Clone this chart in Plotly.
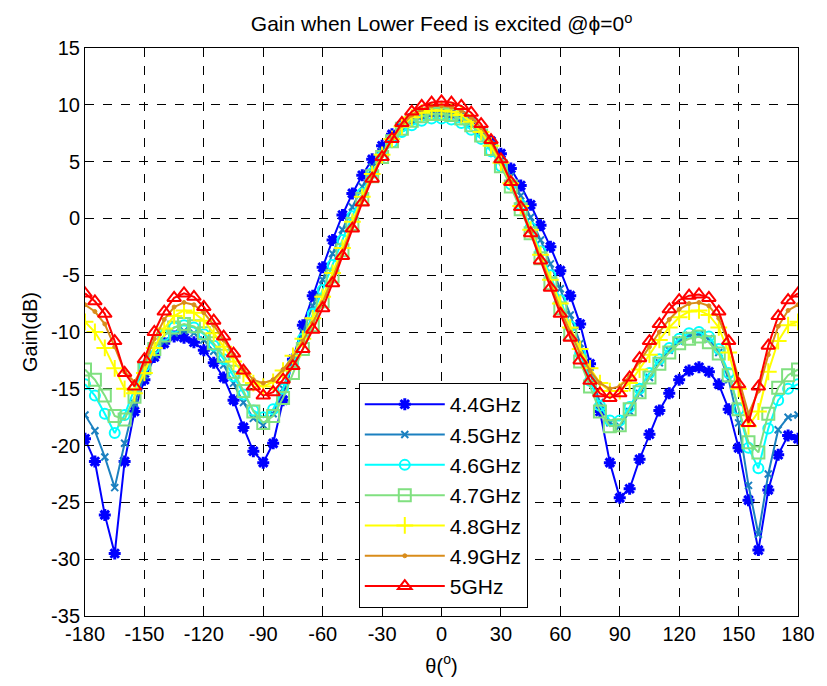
import plotly.graph_objects as go

theta = list(range(-180, 181, 5))

g44 = [-19.4, -21.4, -26.1, -29.5, -21.4, -17.0, -14.2, -12.2, -11.0, -10.4, -10.5, -10.9, -11.6, -12.7, -14.0, -16.0, -18.4, -20.5, -21.5, -19.8, -16.0, -12.4, -9.4, -6.8, -4.3, -1.9, 0.3, 2.2, 3.8, 5.2, 6.4, 7.4, 8.2, 8.8, 9.2, 9.4, 9.4, 9.3, 9.0, 8.5, 7.7, 6.8, 5.7, 4.4, 2.9, 1.2, -0.6, -2.5, -4.6, -6.8, -9.3, -12.8, -17.0, -21.5, -24.6, -23.8, -21.2, -19.0, -16.9, -15.4, -14.2, -13.4, -13.1, -13.5, -14.6, -16.8, -20.2, -24.8, -29.2, -23.9, -20.8, -19.1, -19.4]
g45 = [-17.3, -18.7, -21.0, -23.7, -19.8, -16.3, -13.8, -12.0, -10.8, -10.1, -9.9, -10.1, -10.7, -11.7, -12.9, -14.5, -16.2, -17.6, -18.2, -17.2, -15.0, -12.4, -10.0, -7.7, -5.4, -3.1, -1.0, 1.0, 2.8, 4.5, 5.9, 7.1, 8.0, 8.6, 9.0, 9.2, 9.2, 9.1, 8.8, 8.3, 7.5, 6.5, 5.2, 3.7, 2.0, 0.1, -1.9, -4.0, -6.2, -8.5, -11.0, -13.6, -16.2, -18.0, -18.3, -17.0, -15.4, -14.0, -12.7, -11.6, -10.8, -10.3, -10.2, -10.6, -11.8, -14.2, -18.0, -23.5, -27.8, -22.5, -18.6, -17.5, -17.3]
g46 = [-14.6, -15.6, -17.2, -18.9, -17.3, -15.0, -13.0, -11.4, -10.3, -9.6, -9.4, -9.6, -10.2, -11.2, -12.4, -13.9, -15.5, -16.9, -17.5, -16.8, -15.0, -12.8, -10.6, -8.4, -6.3, -4.1, -1.9, 0.2, 2.2, 4.0, 5.5, 6.7, 7.6, 8.2, 8.6, 8.8, 8.8, 8.7, 8.4, 7.8, 7.0, 5.9, 4.6, 3.0, 1.2, -0.8, -2.9, -5.0, -7.2, -9.5, -11.9, -14.3, -16.5, -17.8, -17.8, -16.6, -15.0, -13.6, -12.4, -11.4, -10.6, -10.1, -10.0, -10.4, -11.5, -13.6, -16.8, -20.2, -22.0, -18.5, -16.0, -15.0, -14.6]
g47 = [-13.3, -14.2, -15.6, -17.4, -17.7, -15.7, -13.2, -11.5, -10.3, -9.6, -9.3, -9.5, -10.1, -11.0, -12.1, -13.5, -15.2, -17.0, -18.0, -17.4, -15.8, -13.6, -11.5, -9.4, -7.3, -5.1, -2.8, -0.5, 1.7, 3.7, 5.4, 6.8, 7.9, 8.6, 9.0, 9.2, 9.2, 9.1, 8.8, 8.2, 7.3, 6.1, 4.6, 2.8, 0.8, -1.3, -3.5, -5.7, -7.9, -10.2, -12.6, -14.8, -17.0, -18.3, -18.2, -16.8, -15.3, -14.0, -12.8, -11.8, -11.0, -10.6, -10.4, -10.9, -11.9, -13.8, -16.8, -19.7, -20.6, -17.2, -14.9, -13.8, -13.3]
g48 = [-9.1, -10.0, -11.4, -13.2, -15.0, -15.4, -13.6, -11.4, -9.7, -8.6, -8.1, -8.3, -9.0, -10.1, -11.3, -12.6, -13.7, -14.5, -14.8, -14.4, -13.4, -12.1, -10.6, -8.8, -6.9, -4.8, -2.6, -0.3, 1.9, 3.9, 5.6, 7.0, 8.1, 8.9, 9.3, 9.5, 9.5, 9.4, 9.1, 8.5, 7.6, 6.4, 4.9, 3.1, 1.1, -1.0, -3.2, -5.4, -7.5, -9.6, -11.5, -13.2, -14.5, -15.2, -15.2, -14.5, -13.3, -12.0, -10.7, -9.6, -8.7, -8.2, -8.1, -8.5, -9.6, -11.8, -15.0, -18.3, -17.0, -13.5, -10.8, -9.4, -9.1]
g49 = [-7.6, -8.2, -9.3, -11.3, -13.5, -14.4, -12.8, -10.6, -8.9, -7.8, -7.4, -7.6, -8.3, -9.4, -10.7, -12.0, -13.3, -14.2, -14.5, -14.2, -13.3, -12.2, -10.8, -9.2, -7.4, -5.3, -3.0, -0.7, 1.6, 3.7, 5.5, 7.0, 8.2, 9.1, 9.6, 9.9, 9.9, 9.8, 9.5, 8.9, 8.0, 6.7, 5.1, 3.2, 1.1, -1.2, -3.5, -5.8, -8.0, -10.0, -11.9, -13.4, -14.5, -15.0, -14.8, -13.9, -12.6, -11.3, -10.0, -8.9, -8.0, -7.5, -7.4, -7.7, -8.8, -11.0, -14.2, -17.2, -15.2, -12.0, -9.5, -8.1, -7.6]
g50 = [-6.6, -7.3, -8.4, -10.8, -13.6, -14.8, -12.4, -10.0, -8.2, -7.0, -6.6, -6.9, -7.8, -9.0, -10.4, -11.9, -13.4, -14.8, -15.6, -15.3, -14.2, -13.0, -11.5, -9.8, -7.9, -5.7, -3.3, -0.9, 1.4, 3.5, 5.4, 7.0, 8.4, 9.4, 9.9, 10.2, 10.3, 10.2, 9.9, 9.3, 8.3, 6.9, 5.2, 3.2, 1.0, -1.3, -3.7, -6.1, -8.4, -10.5, -12.5, -14.3, -15.4, -15.8, -15.4, -14.0, -12.3, -10.8, -9.3, -8.0, -7.2, -6.8, -6.7, -7.0, -8.2, -10.8, -14.6, -18.0, -14.8, -11.2, -8.6, -7.2, -6.6]

names = ["4.4GHz", "4.5GHz", "4.6GHz", "4.7GHz", "4.8GHz", "4.9GHz", "5GHz"]
series = [g44, g45, g46, g47, g48, g49, g50]
colors = ["#0000FF", "#1B80C0", "#00FFFF", "#80E080", "#FFFF00", "#D98C1A", "#FF0000"]
symbols = ["asterisk-open", "x-thin-open", "circle-open", "square-open", "cross-thin-open", "circle", "triangle-up-open"]
msizes = [10, 7, 10, 12, 12, 4, 12]
mwidths = [3, 2, 2, 2, 2, 1, 2]

xticks = list(range(-180, 181, 30))
yticks = list(range(-35, 16, 5))
xticktext = [str(v) for v in xticks]
yticktext = [str(v) for v in yticks]

FONT = "Liberation Sans, Arial, sans-serif"

fig = go.Figure()
for nm, ys, c, s, ms, mw in zip(names, series, colors, symbols, msizes, mwidths):
    fig.add_trace(go.Scatter(
        x=theta, y=ys, name=nm, mode="lines+markers",
        line=dict(color=c, width=2),
        marker=dict(symbol=s, size=ms, color=c, line=dict(color=c, width=mw)),
    ))

axis_common = dict(
    showline=True, linecolor="black", linewidth=1, mirror="ticks",
    ticks="inside", ticklen=7, tickcolor="black",
    showgrid=True, gridcolor="black", gridwidth=1, griddash="dash",
    zeroline=False, tickfont=dict(family=FONT, size=20, color="black"),
)

fig.update_layout(
    width=827, height=686,
    margin=dict(l=85, r=21, t=48, b=70),
    paper_bgcolor="white", plot_bgcolor="white",
    title=dict(text="Gain when Lower Feed is excited @ϕ=0<sup>o</sup>", xref="container", x=0.534, xanchor="center",
               yref="container", y=0.965, yanchor="middle", font=dict(family=FONT, size=21, color="black")),
    xaxis=dict(range=[-180, 180], tickmode="array", tickvals=xticks, ticktext=xticktext,
               title=dict(text="θ(<sup>o</sup>)", font=dict(family=FONT, size=20, color="black"), standoff=14),
               **axis_common),
    yaxis=dict(range=[-35, 15], tickmode="array", tickvals=yticks, ticktext=yticktext,
               title=dict(text="Gain(dB)", font=dict(family=FONT, size=20, color="black"), standoff=8),
               **axis_common),
    legend=dict(x=0.384, y=0.41, xanchor="left", yanchor="top",
                bgcolor="white", bordercolor="black", borderwidth=1,
                font=dict(family=FONT, size=21, color="black"),
                itemwidth=80, tracegroupgap=0),
    showlegend=True,
)

fig.write_html("out.html")
